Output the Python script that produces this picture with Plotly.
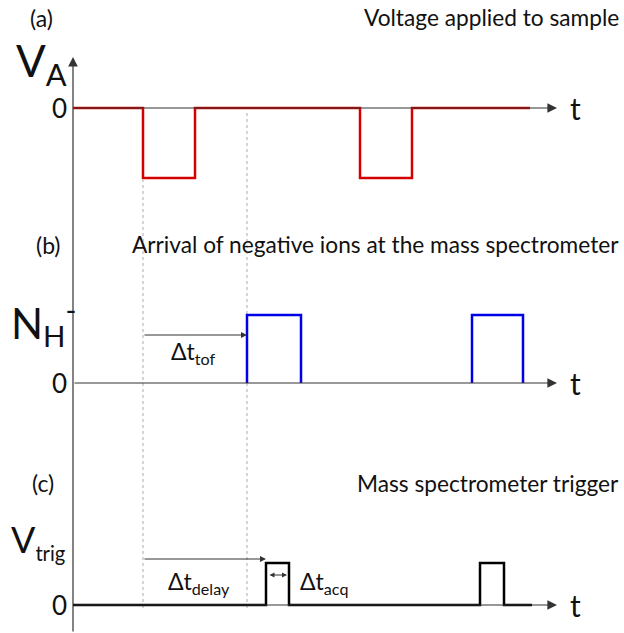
import plotly.graph_objects as go

# ---------------- data (arbitrary time units) ----------------
# (a) voltage applied to sample
t_a = [0, 7.0, 7.0, 12.2, 12.2, 28.7, 28.7, 33.9, 33.9, 45.7]
v_a = [0, 0, -1, -1, 0, 0, -1, -1, 0, 0]
# (b) arrival of negative ions
t_b = [17.4, 17.4, 22.8, 22.8, None, 39.9, 39.9, 45.0, 45.0]
n_b = [0, 1, 1, 0, None, 0, 1, 1, 0]
# (c) mass spectrometer trigger
t_c = [0, 19.3, 19.3, 21.6, 21.6, 40.7, 40.7, 43.1, 43.1, 45.9]
v_c = [0, 0, 1, 1, 0, 0, 1, 1, 0, 0]

t_end = 48.4          # arrow tip of time axes
t_pulse = 7.0         # start of voltage pulse
t_arrival = 17.4      # arrival of ions
t_trigger = 19.3      # trigger start
t_trig_end = 21.6

W, H = 624, 633
FONT = "Lato"

def pxx(p):
    return p / W

def pyy(p):
    return 1 - p / H

fig = go.Figure()
fig.add_trace(go.Scatter(x=t_a, y=v_a, mode="lines", line=dict(color="#d40000", width=2.5),
                         yaxis="y", showlegend=False, hoverinfo="skip"))
fig.add_trace(go.Scatter(x=t_b, y=n_b, mode="lines", line=dict(color="#0000e6", width=2.5),
                         yaxis="y2", showlegend=False, hoverinfo="skip"))
fig.add_trace(go.Scatter(x=t_c, y=v_c, mode="lines", line=dict(color="#000000", width=2.5),
                         yaxis="y3", showlegend=False, hoverinfo="skip"))

ax_common = dict(visible=False, domain=[0, 1], fixedrange=True)
fig.update_layout(
    width=W, height=H,
    margin=dict(l=0, r=0, t=0, b=0),
    paper_bgcolor="white", plot_bgcolor="white",
    xaxis=dict(visible=False, range=[-7.3, 55.1], domain=[0, 1], fixedrange=True),
    yaxis=dict(range=[-7.5, 108 / 70], **ax_common),
    yaxis2=dict(range=[-250 / 68, 383 / 68], overlaying="y", **ax_common),
    yaxis3=dict(range=[-28 / 42, 605 / 42], overlaying="y", **ax_common),
    font=dict(family=FONT, color="#111"),
)

ann = []
for yr in ["y", "y2", "y3"]:
    ann.append(dict(x=t_end, y=0, ax=0, ay=0, xref="x", yref=yr, axref="x", ayref=yr,
                    showarrow=True, arrowhead=2, arrowsize=1.6, arrowwidth=1.2,
                    arrowcolor="#333", text=""))
# vertical axis
ann.append(dict(x=0, y=(108 - 57) / 70, ax=0, ay=-7.5, xref="x", yref="y", axref="x", ayref="y",
                showarrow=True, arrowhead=2, arrowsize=1.6, arrowwidth=1.2,
                arrowcolor="#333", text=""))
# delta-t arrows
ann.append(dict(x=t_arrival, y=(383 - 335) / 68, ax=t_pulse, ay=(383 - 335) / 68,
                xref="x", yref="y2", axref="x", ayref="y2", showarrow=True,
                arrowhead=2, arrowsize=1.2, arrowwidth=1, arrowcolor="#333", text=""))
ann.append(dict(x=t_trigger, y=(605 - 559) / 42, ax=t_pulse, ay=(605 - 559) / 42,
                xref="x", yref="y3", axref="x", ayref="y3", showarrow=True,
                arrowhead=2, arrowsize=1.2, arrowwidth=1, arrowcolor="#333", text=""))
ann.append(dict(x=t_trig_end - 0.2, y=(605 - 575) / 42, ax=t_trigger + 0.2, ay=(605 - 575) / 42,
                xref="x", yref="y3", axref="x", ayref="y3", showarrow=True, arrowside="end+start",
                arrowhead=2, arrowsize=1.0, arrowwidth=1, arrowcolor="#333", text=""))

def txt(text, x, y, size, xanchor="center", yanchor="middle"):
    ann.append(dict(text=text, x=pxx(x), y=pyy(y), xref="paper", yref="paper",
                    xanchor=xanchor, yanchor=yanchor, showarrow=False,
                    font=dict(family=FONT, size=size, color="#111")))

txt("(a)", 41, 18, 23)
txt("Voltage applied to sample", 621, 18, 22.7, xanchor="right")
txt("V<sub>A</sub>", 41, 64, 44)
txt("0", 59, 108, 26)
txt("t", 575, 108, 30)

txt("(b)", 48, 245, 23)
txt("Arrival of negative ions at the mass spectrometer", 621, 245, 22.7, xanchor="right")
txt("N<sub>H</sub><sup style='font-size:70%'>-</sup>", 43, 322, 42)
txt("0", 59, 383, 26)
txt("t", 575, 383, 30)
txt("Δt<sub>tof</sub>", 193, 352, 23)

txt("(c)", 43, 483, 23)
txt("Mass spectrometer trigger", 621, 483, 22.7, xanchor="right")
txt("V<sub><span style='font-size:80%'>trig</span></sub>", 38, 541, 36)
txt("0", 59, 605, 26)
txt("t", 575, 605, 30)
txt("Δt<sub>delay</sub>", 199, 582, 23)
txt("Δt<sub>acq</sub>", 324, 582, 23)

fig.update_layout(annotations=ann)

shapes = [
    dict(type="line", xref="x", yref="paper", x0=t_pulse, x1=t_pulse,
         y0=pyy(608), y1=pyy(180), line=dict(color="#aaa", width=1, dash="dot"), layer="below"),
    dict(type="line", xref="x", yref="paper", x0=t_arrival, x1=t_arrival,
         y0=pyy(608), y1=pyy(110), line=dict(color="#aaa", width=1, dash="dot"), layer="below"),
]
fig.update_layout(shapes=shapes)

fig.write_html("out.html", config={"displayModeBar": False, "staticPlot": True},
               post_script="document.body.style.margin='0';document.body.style.overflow='hidden';")
